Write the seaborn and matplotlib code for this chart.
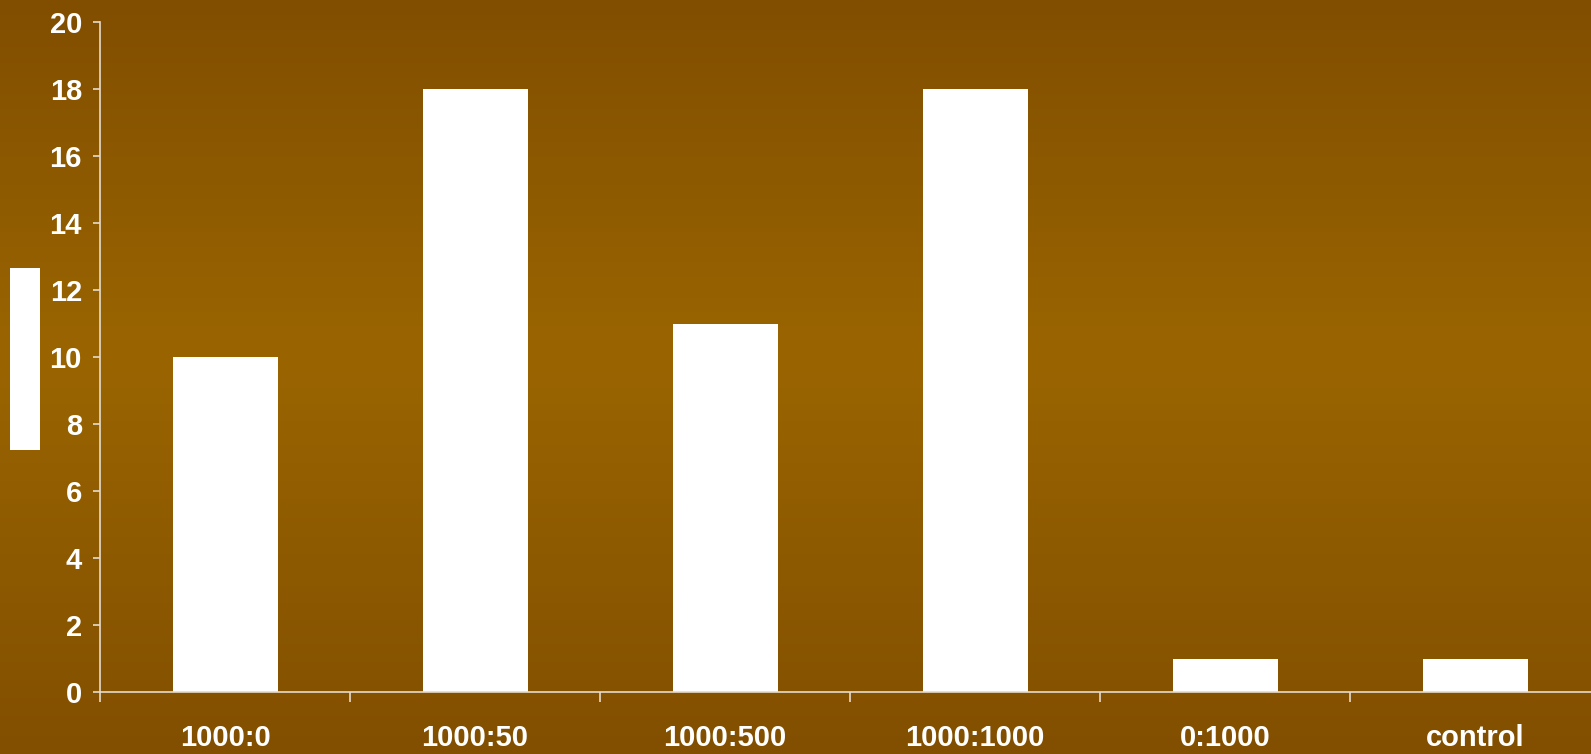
import numpy as np
import pandas as pd
import matplotlib
matplotlib.use("Agg")
import matplotlib.pyplot as plt
import seaborn as sns
from matplotlib.colors import LinearSegmentedColormap
from matplotlib.patches import Rectangle

categories = ["1000:0", "1000:50", "1000:500", "1000:1000", "0:1000", "control"]
values = [10, 18, 11, 18, 1, 1]
yticks = [0, 2, 4, 6, 8, 10, 12, 14, 16, 18, 20]

sns.set_theme(style="white")
plt.rcParams['font.family'] = ['Liberation Sans', 'DejaVu Sans']

W, H = 1591, 754
fig = plt.figure(figsize=(W / 100, H / 100), dpi=100)

# background gradient
bg = fig.add_axes([0, 0, 1, 1], zorder=-10)
cmap = LinearSegmentedColormap.from_list(
    "bg", [(0.0, "#814e00"), (0.47, "#9a6500"), (1.0, "#824f00")])
grad = np.linspace(0, 1, 256).reshape(-1, 1)
bg.imshow(grad, aspect="auto", cmap=cmap, extent=[0, 1, 0, 1], origin="upper")
bg.set_axis_off()

ax = fig.add_axes([100 / W, (H - 692) / H, 1500 / W, 670 / H])
ax.patch.set_alpha(0)
df = pd.DataFrame({"cat": categories, "val": values})
sns.barplot(data=df, x="cat", y="val", color="white", saturation=1,
            width=0.42, ax=ax, edgecolor="none")

ax.set_xlim(-0.5, 5.5)
ax.set_ylim(0, 20)
ax.set_yticks(yticks)
ax.set_yticklabels([str(v) for v in yticks])
ax.set_xticks(range(len(categories)))
ax.set_xticklabels(categories)
ax.set_xticks(np.arange(-0.5, 6.0, 1.0), minor=True)
ax.set_xlabel("")
ax.set_ylabel("")

spc = "#e6dccb"
for s in ["top", "right"]:
    ax.spines[s].set_visible(False)
for s in ["left", "bottom"]:
    ax.spines[s].set_color(spc)
    ax.spines[s].set_linewidth(1.2)

ax.tick_params(axis="y", which="major", direction="out", length=5, width=1.2,
               color=spc, pad=8, labelsize=21, labelcolor="white", left=True)
ax.tick_params(axis="x", which="major", length=0, pad=23, labelsize=21,
               labelcolor="white")
ax.tick_params(axis="x", which="minor", direction="out", length=7, width=1.2,
               color=spc, bottom=True)
for lbl in ax.get_xticklabels() + ax.get_yticklabels():
    lbl.set_fontweight("bold")

# white legend-like box on the left
fig.patches.append(Rectangle((10 / W, (H - 450) / H), 30 / W, 182 / H,
                             transform=fig.transFigure, facecolor="white",
                             edgecolor="none"))

fig.savefig("out.png", dpi=100)
